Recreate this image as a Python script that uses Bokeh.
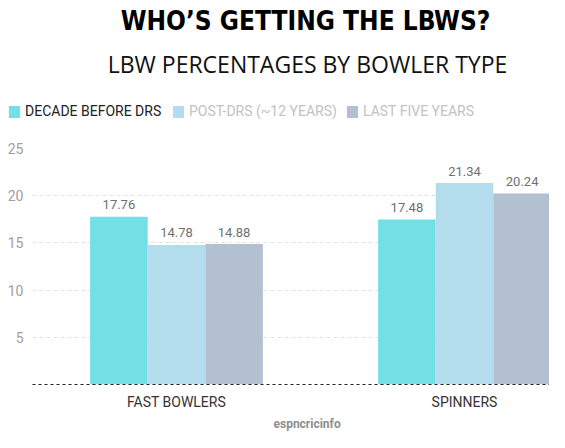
from bokeh.plotting import figure
from bokeh.layouts import column
from bokeh.models import (ColumnDataSource, FixedTicker, Label, Legend,
                          LegendItem, Range1d, Title)
from bokeh.transform import dodge
from bokeh.core.properties import value
from bokeh.embed import file_html
from bokeh.resources import INLINE

# data
categories = ["FAST BOWLERS", "SPINNERS"]
series = ["DECADE BEFORE DRS", "POST-DRS (~12 YEARS)", "LAST FIVE YEARS"]
decade_before = [17.76, 17.48]
post_drs = [14.78, 21.34]
last_five = [14.88, 20.24]
y_ticks = [5, 10, 15, 20, 25]

colors = ["#74dfe5", "#b3ddec", "#b3c0d2"]
legend_text = ["#222222", "#c2c2c2", "#c2c2c2"]
legend_x = [7, 171, 345]
offsets = [-0.2, 0.0, 0.2]
FONT = "Roboto"
W = 549

# ---- header: titles and legend ----
head = figure(width=W, height=140, output_backend="svg", toolbar_location=None,
              x_range=Range1d(0, W), y_range=Range1d(0, 140),
              x_axis_type=None, y_axis_type=None, frame_align=False,
              min_border_left=0, min_border_right=0,
              min_border_top=0, min_border_bottom=0)
head.outline_line_color = None
head.xgrid.visible = False
head.ygrid.visible = False

head.add_layout(Label(x=305, y=120, x_units="screen", y_units="screen",
                      text="WHO’S GETTING THE LBWS?", text_align="center",
                      text_baseline="alphabetic",
                      text_font="DejaVu Sans Condensed", text_font_style="bold",
                      text_font_size="26px", text_color="black"))
head.add_layout(Label(x=307, y=77, x_units="screen", y_units="screen",
                      text="LBW PERCENTAGES BY BOWLER TYPE", text_align="center",
                      text_baseline="alphabetic",
                      text_font="Open Sans", text_font_size="23px",
                      text_color="#111111"))

for i in range(3):
    dummy = head.vbar(x=[0], top=[0], width=0, fill_color=colors[i], line_color=None)
    lg = Legend(items=[LegendItem(label=series[i], renderers=[dummy])],
                location=(legend_x[i], 21), orientation="horizontal",
                glyph_width=14, glyph_height=15, label_height=15,
                label_standoff=4, padding=0, margin=0, spacing=0,
                border_line_color=None, background_fill_alpha=0,
                label_text_font=FONT, label_text_font_size="14px",
                label_text_color=legend_text[i])
    head.add_layout(lg)

# ---- chart ----
idx = list(range(len(categories)))
src = ColumnDataSource(data=dict(
    x=idx,
    s0=decade_before, s1=post_drs, s2=last_five,
    t0=[f"{v:.2f}" for v in decade_before],
    t1=[f"{v:.2f}" for v in post_drs],
    t2=[f"{v:.2f}" for v in last_five],
))

p = figure(width=W, height=292, output_backend="svg", toolbar_location=None,
           x_range=Range1d(-0.5, 1.2951), y_range=Range1d(0, 25),
           frame_align=False,
           min_border_left=32, min_border_right=0,
           min_border_top=8, min_border_bottom=48)
p.outline_line_color = None

for i in range(3):
    p.vbar(x=dodge("x", offsets[i]), top=f"s{i}", width=0.2, source=src,
           fill_color=colors[i], line_color=None)
    p.text(x=dodge("x", offsets[i]), y=f"s{i}", text=f"t{i}", source=src,
           text_align="center", text_baseline="alphabetic", y_offset=-12,
           text_font=value(FONT), text_font_size="13px", text_color="#707070")

p.xaxis.ticker = FixedTicker(ticks=idx)
p.xaxis.major_label_overrides = {i: c for i, c in enumerate(categories)}
p.xaxis.major_tick_line_color = None
p.xaxis.major_tick_out = 0
p.xaxis.major_tick_in = 0
p.xaxis.minor_tick_line_color = None
p.xaxis.axis_line_color = "#222222"
p.xaxis.axis_line_dash = "3 3"
p.xaxis.major_label_standoff = 9
p.xaxis.major_label_text_font = FONT
p.xaxis.major_label_text_font_size = "14px"
p.xaxis.major_label_text_color = "#333333"

p.yaxis.ticker = FixedTicker(ticks=y_ticks)
p.yaxis.axis_line_color = None
p.yaxis.major_tick_line_color = None
p.yaxis.major_tick_out = 0
p.yaxis.major_tick_in = 0
p.yaxis.minor_tick_line_color = None
p.yaxis.major_label_standoff = 9
p.yaxis.major_label_text_font = FONT
p.yaxis.major_label_text_font_size = "14px"
p.yaxis.major_label_text_color = "#a0a0a0"

p.xgrid.grid_line_color = None
p.ygrid.ticker = FixedTicker(ticks=y_ticks)
p.ygrid.grid_line_color = "#e2e2e2"
p.ygrid.grid_line_dash = "4 3"

p.add_layout(Title(text="espncricinfo", align="left", offset=241,
                   text_font=FONT, text_font_style="bold",
                   text_font_size="12px", text_color="#8e8e8e",
                   standoff=4), "below")

open("out.html", "w").write(file_html(column(head, p, spacing=0), INLINE))
